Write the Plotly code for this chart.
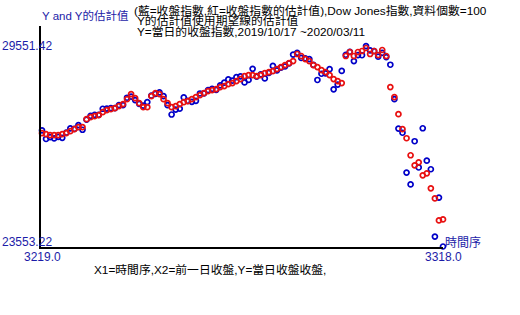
import plotly.graph_objects as go

# ---------------- data ----------------
t_index = list(range(3219, 3319))  # X1 = 時間序 (100 points)

close_actual = [
    27025.88, 26770.20, 26827.64, 26788.10, 26833.95, 26805.53, 26958.06, 27090.72, 27071.46, 27186.69,
    27046.23, 27347.36, 27462.11, 27492.63, 27492.56, 27674.80, 27681.24, 27691.49, 27691.49, 27783.59,
    27781.96, 28004.89, 28036.22, 27934.02, 27821.09, 27766.29, 27875.62, 28066.47, 28121.68, 28164.00,
    28051.41, 27783.04, 27502.81, 27649.78, 27677.79, 28015.06, 27909.60, 27881.72, 27911.30, 28132.05,
    28135.38, 28235.89, 28267.16, 28239.28, 28376.96, 28455.09, 28551.53, 28515.45, 28621.39, 28645.26,
    28462.14, 28538.44, 28868.80, 28634.88, 28703.38, 28583.68, 28745.09, 28956.90, 28823.77, 28907.05,
    28939.67, 29030.22, 29297.64, 29348.10, 29196.04, 29186.27, 29160.09, 28989.73, 28535.80, 28722.85,
    28734.45, 28859.44, 28256.03, 28399.81, 28807.63, 29290.85, 29379.77, 29102.51, 29276.82, 29276.34,
    29551.42, 29423.31, 29398.08, 29232.19, 29348.03, 29219.98, 28992.41, 27960.80, 27081.36, 26957.59,
    25766.64, 25409.36, 26703.32, 25917.41, 27090.86, 26121.28, 25864.78, 23851.02, 25018.16, 23553.22,
]

close_estimate = [
    26943, 26913, 26883, 26883, 26883, 26913, 26943, 27003, 27063, 27123,
    27123, 27363, 27423, 27453, 27483, 27573, 27633, 27663, 27693, 27753,
    27813, 27963, 28113, 27993, 27843, 27723, 27723, 28053, 28143, 28113,
    27963, 27843, 27723, 27753, 27813, 27873, 27903, 27963, 28023, 28083,
    28143, 28203, 28233, 28263, 28323, 28353, 28413, 28443, 28503, 28563,
    28653, 28683, 28683, 28653, 28683, 28743, 28773, 28803, 28863, 28923,
    28983, 29043, 29103, 29313, 29253, 29163, 29103, 28983, 28923, 28833,
    28773, 28683, 28563, 28503, 28443, 29253, 29373, 29253, 29373, 29403,
    29493, 29313, 29403, 29283, 29433, 29253, 28323, 28023, 27513, 27063,
    26793, 26283, 25983, 26073, 25683, 25743, 25293, 24993, 24333, 24363,
]

y_max_label = "29551.42"
y_min_label = "23553.22"
x_min_label = "3219.0"
x_max_label = "3318.0"

# ---------------- layout helpers ----------------
W, H = 520, 315
L, R, T, B = 41, 443, 26, 247   # plot area in pixels

def px(x):
    return (x - L) / (R - L)

def py(y):
    return (B - y) / (B - T)

FONT = "Liberation Sans, Arial, Noto Sans CJK TC, sans-serif"
BLUE_TXT = "#1C1CA8"

ymin, ymax = min(close_actual), max(close_actual)
k = (ymax - ymin) / 200.0          # value per pixel
xmin, xmax = t_index[0], t_index[-1]
kx = (xmax - xmin) / 401.0

fig = go.Figure()
fig.add_trace(go.Scatter(
    x=t_index, y=close_actual, mode="markers",
    marker=dict(symbol="circle-open", size=5, color="#0000C8", line=dict(width=1.7, color="#0000C8")),
    cliponaxis=False, showlegend=False, hoverinfo="skip"))
fig.add_trace(go.Scatter(
    x=t_index, y=close_estimate, mode="markers",
    marker=dict(symbol="circle-open", size=5, color="#E81010", line=dict(width=1.7, color="#E81010")),
    cliponaxis=False, showlegend=False, hoverinfo="skip"))

ann = []
def add(text, x, y, color="black", size=12, xanchor="left", xref="paper", yref="paper"):
    ann.append(dict(text=text, x=x, y=y, xref=xref, yref=yref, xanchor=xanchor, yanchor="middle",
                    showarrow=False, font=dict(family=FONT, size=size, color=color)))

add("Y and Y的估計值", px(40), py(16), color=BLUE_TXT, size=11.5)
add("(藍=收盤指數,紅=收盤指數的估計值),Dow Jones指數,資料個數=100", px(132), py(10.5), size=11.8)
add("Y的估計值使用期望線的估計值", px(135), py(21), size=11.8)
add("Y=當日的收盤指數,2019/10/17 ~2020/03/11", px(135), py(32), size=11.8)
add(y_max_label, px(0), ymax, color=BLUE_TXT, yref="y")
add(y_min_label, px(0), ymin + 4 * k, color=BLUE_TXT, yref="y")
add(x_min_label, xmin, py(257), color=BLUE_TXT, xanchor="center", xref="x")
add(x_max_label, xmax, py(257), color=BLUE_TXT, xanchor="center", xref="x")
add("時間序", px(443), py(242), color=BLUE_TXT)
add("X1=時間序,X2=前一日收盤,Y=當日收盤收盤,", px(92), py(270), size=11.8)

fig.update_layout(
    width=W, height=H,
    margin=dict(l=L, r=W - R, t=T, b=H - B, pad=0),
    paper_bgcolor="white", plot_bgcolor="white",
    xaxis=dict(range=[xmin - kx, xmax], showgrid=False, zeroline=False, showticklabels=False,
               ticks="", showline=True, linecolor="black", linewidth=2, fixedrange=True),
    yaxis=dict(range=[ymin - 0.5 * k, ymax + 20 * k], showgrid=False, zeroline=False,
               showticklabels=False, ticks="", showline=True, linecolor="black", linewidth=2,
               fixedrange=True),
    annotations=ann,
)

fig.write_html("out.html", config={"displayModeBar": False})
